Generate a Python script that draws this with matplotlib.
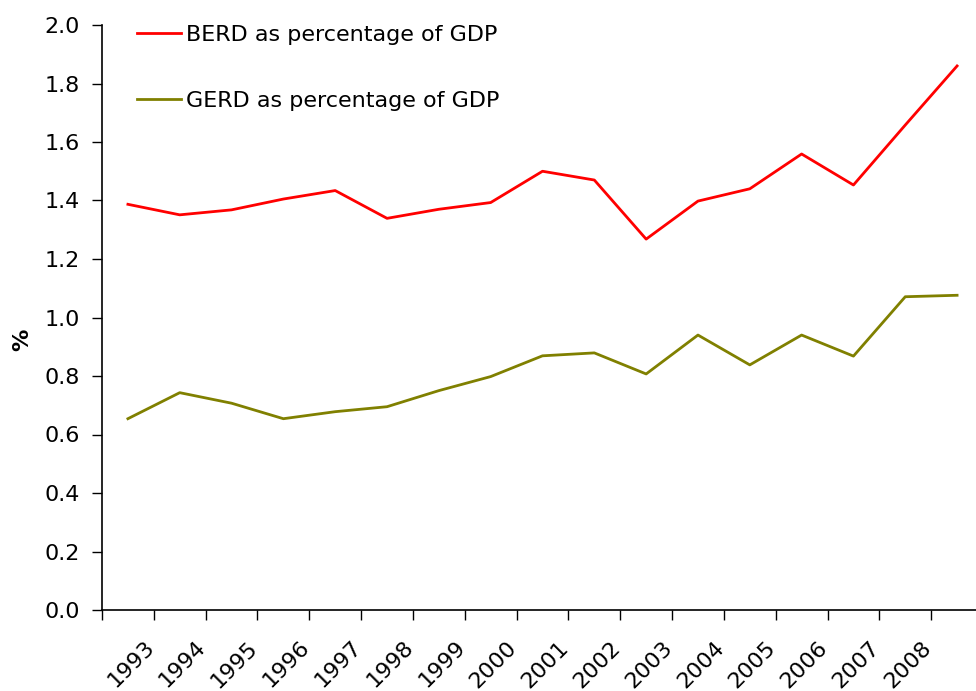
import matplotlib
matplotlib.use("Agg")
import matplotlib.pyplot as plt
import matplotlib.transforms as mtrans
import numpy as np

years = ["1993", "1994", "1995", "1996", "1997", "1998", "1999", "2000",
         "2001", "2002", "2003", "2004", "2005", "2006", "2007", "2008"]
berd = [1.387, 1.351, 1.368, 1.405, 1.434, 1.339, 1.370, 1.393, 1.500, 1.470,
        1.268, 1.398, 1.440, 1.559, 1.453, 1.658, 1.860]
gerd = [0.654, 0.743, 0.707, 0.654, 0.678, 0.695, 0.750, 0.798, 0.869, 0.879,
        0.807, 0.940, 0.838, 0.940, 0.868, 1.071, 1.076]

FS = 16
plt.rcParams['font.family'] = ['DejaVu Sans']
fig = plt.figure(figsize=(9.76, 6.91), dpi=100)
ax = fig.add_axes([102/976, 1-610/691, (983-102)/976, (610-25)/691])

x = np.arange(len(berd)) + 0.5
ax.plot(x, berd, color='#ff0000', lw=2.0, label='BERD as percentage of GDP')
ax.plot(x, gerd, color='#808000', lw=2.0, label='GERD as percentage of GDP')

ax.set_xlim(0, len(berd))
ax.set_ylim(0, 2.0)
yt = np.arange(0, 2.01, 0.2)
ax.set_yticks(yt)
ax.set_yticklabels([f"{v:.1f}" for v in yt], fontsize=FS)
ax.set_xticks(np.arange(0, len(berd) + 1))
ax.set_xticklabels([""] + years + [""], fontsize=FS, rotation=45, ha='right',
                   rotation_mode='anchor')
ax.tick_params(axis='y', length=7, width=1, pad=9)
ax.tick_params(axis='x', length=7, width=1, pad=14)
shift = mtrans.ScaledTranslation(-10/100, 2/100, fig.dpi_scale_trans)
for lab in ax.get_xticklabels():
    lab.set_transform(lab.get_transform() + shift)
for s in ['top', 'right']:
    ax.spines[s].set_visible(False)
for s in ['left', 'bottom']:
    ax.spines[s].set_linewidth(1.2)

fig.text(22/976, 1-340/691, '%', rotation=90, ha='center', va='center',
         fontsize=FS, fontweight='bold')

ax.legend(loc='upper left', bbox_to_anchor=(137/976, 1-25/691),
          bbox_transform=fig.transFigure, frameon=False,
          fontsize=FS, labelspacing=2.06, handlelength=2.0, handletextpad=0.2,
          borderaxespad=0, borderpad=0)

fig.savefig('out.png', dpi=100)
